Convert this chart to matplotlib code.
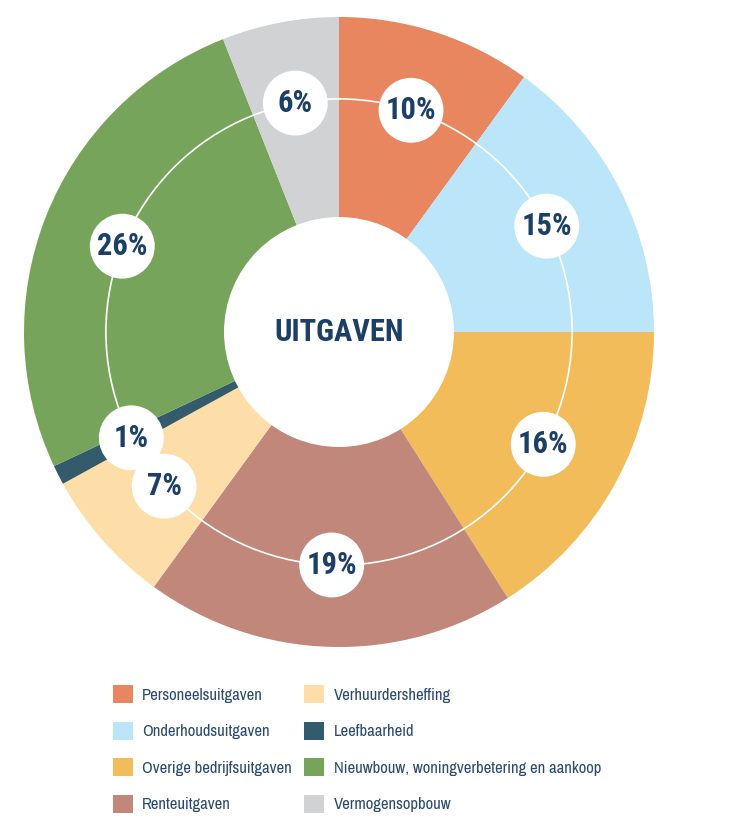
import numpy as np
import matplotlib.pyplot as plt
from matplotlib.patches import Circle, Patch

bold_fonts = ['Roboto Condensed', 'Barlow Semi Condensed', 'DejaVu Sans']
text_fonts = ['Archivo Narrow', 'Roboto Condensed', 'DejaVu Sans']
plt.rcParams['font.family'] = text_fonts

# uitgaven categorieen en aandelen (%)
labels = ['Personeelsuitgaven', 'Onderhoudsuitgaven', 'Overige bedrijfsuitgaven',
          'Renteuitgaven', 'Verhuurdersheffing', 'Leefbaarheid',
          'Nieuwbouw, woningverbetering en aankoop', 'Vermogensopbouw']
values = [10, 15, 16, 19, 7, 1, 26, 6]
colors = ['#E8875F', '#BBE5F8', '#F2BC5B', '#C0877A',
          '#FDDDA8', '#345B6C', '#77A45B', '#D1D2D4']
title = 'UITGAVEN'

navy = '#1B3F66'

fig = plt.figure(figsize=(7.32, 8.32), dpi=100)
ax = fig.add_axes([24 / 732, 185 / 832, 630 / 732, 630 / 832])

ax.pie(values, colors=colors, startangle=90, counterclock=False, radius=1,
       wedgeprops=dict(linewidth=0))
ax.set_xlim(-1, 1)
ax.set_ylim(-1, 1)
ax.axis('off')

# witte ring en binnencirkel
ax.add_patch(Circle((0, 0), 0.74, fill=False, edgecolor='white', lw=1.2, zorder=3))
ax.add_patch(Circle((0, 0), 0.365, facecolor='white', edgecolor='none', zorder=4))
ax.text(0, 0, title, ha='center', va='center', fontsize=22, fontweight='bold',
        color=navy, family=bold_fonts, zorder=5)

# percentage labels op de ring
cum = np.cumsum(values) - np.array(values) / 2
for v, c in zip(values, cum):
    ang = np.deg2rad(90 - c / 100 * 360)
    x, y = 0.74 * np.cos(ang), 0.74 * np.sin(ang)
    ax.add_patch(Circle((x, y), 0.103, facecolor='white', edgecolor='none', zorder=4))
    ax.text(x, y, f'{v}%', ha='center', va='center', fontsize=22,
            fontweight='bold', color=navy, family=bold_fonts, zorder=5)

handles = [Patch(facecolor=c, edgecolor='none') for c in colors]
leg = fig.legend(handles, labels, ncol=2, loc='upper left',
                 bbox_to_anchor=(113 / 732, 1 - 685 / 832), frameon=False,
                 fontsize=12, handlelength=1.2, handleheight=1.3,
                 handletextpad=0.55, labelspacing=1.1, columnspacing=0.75,
                 borderpad=0, borderaxespad=0)
for t in leg.get_texts():
    t.set_color('#2C4A6E')

fig.savefig('out.png', dpi=100)
